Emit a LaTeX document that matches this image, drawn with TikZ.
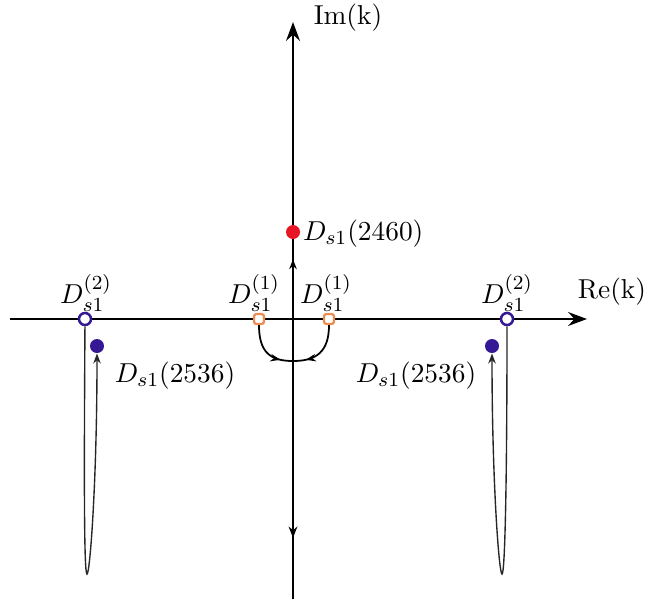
\documentclass[tikz,border=0pt]{standalone}
\usetikzlibrary{arrows.meta,decorations.markings}
\definecolor{dred}{RGB}{232,22,36}
\definecolor{indigo}{RGB}{52,24,148}
\definecolor{sqorange}{RGB}{236,140,80}
\begin{document}
\begin{tikzpicture}[x=0.4pt,y=-0.4pt, font=\fontsize{11}{13}\selectfont,
  axis/.style={line width=1.1pt, -{Stealth[length=7.5pt,width=5.5pt]}},
  thinline/.style={line width=0.55pt, black!85},
  fdot/.style={circle, inner sep=0pt, minimum size=5.6pt},
  odot/.style={circle, draw=indigo, fill=white, line width=1pt, inner sep=0pt, minimum size=4.8pt},
  sqbox/.style={rectangle, rounded corners=1pt, draw=sqorange, fill=white, line width=0.9pt, inner sep=0pt, minimum size=4pt},
  lbl/.style={inner sep=1pt},
  midarrow/.style={decoration={markings, mark=at position #1 with {\arrow{Stealth[length=4pt,width=3pt]}}}, postaction={decorate}},
]
\useasboundingbox (0,0) rectangle (646,601);
% axes
\coordinate (xl) at (10,319);
\coordinate (xr) at (587,319);
\coordinate (yb) at (293,599);
\coordinate (yt) at (293,22);
\draw[axis] (xl) -- (xr);
\draw[axis, decoration={markings,
    mark=at position 0.106 with {\arrowreversed{Stealth[length=4.5pt,width=3.5pt]}},
    mark=at position 0.589 with {\arrow{Stealth[length=4pt,width=3pt]}}},
  postaction={decorate}] (yb) -- (yt);
% points
\node[fdot, fill=dred] (R) at (293,232) {};
\node[odot] (O2L) at (85,319) {};
\node[odot] (O2R) at (507,319) {};
\node[sqbox] (S1L) at (259,319) {};
\node[sqbox] (S1R) at (329,319) {};
\node[fdot, fill=indigo] (B2L) at (97,346) {};
\node[fdot, fill=indigo] (B2R) at (492,346) {};
% labels
\node[lbl, anchor=west] (LR) at (300,234) {$D_{s1}(2460)$};
\node[lbl] (L2L) at (86,293) {$D_{s1}^{(2)}$};
\node[lbl] (L2R) at (507,293) {$D_{s1}^{(2)}$};
\node[lbl] (L1L) at (254,293) {$D_{s1}^{(1)}$};
\node[lbl] (L1R) at (326,293) {$D_{s1}^{(1)}$};
\node[lbl] (LBL) at (175,376) {$D_{s1}(2536)$};
\node[lbl] (LBR) at (416,376) {$D_{s1}(2536)$};
\node[lbl] (Im) at (348,18) {$\mathrm{Im(k)}$};
\node[lbl] (Re) at (612,292) {$\mathrm{Re(k)}$};
% small curves between the squares
\coordinate (meet) at (293,361);
\draw[line width=0.7pt, midarrow=0.78] (S1L) .. controls (259,352) and (270,361) .. (meet);
\draw[line width=0.7pt, midarrow=0.78] (S1R) .. controls (329,352) and (316,361) .. (meet);
% long thin curves
\coordinate (vL) at (87,574);
\coordinate (vR) at (502,574);
\draw[thinline, -{Stealth[length=4pt,width=3pt]}] (O2L) .. controls (84,480) and (84,574) .. (vL) .. controls (90,574) and (97,480) .. (B2L);
\draw[thinline, -{Stealth[length=4pt,width=3pt]}] (O2R) .. controls (507,480) and (505,574) .. (vR) .. controls (499,574) and (492,480) .. (B2R);
\end{tikzpicture}
\end{document}
